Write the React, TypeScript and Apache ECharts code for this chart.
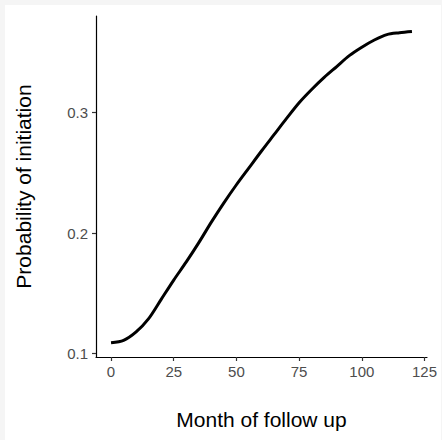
import React, { useEffect, useRef } from "react";
import * as echarts from "echarts";

const months = [0, 5, 10, 15, 20, 25, 30, 35, 40, 45, 50, 55, 60, 65, 70, 75, 80, 85, 90, 95, 100, 105, 110, 115, 120];
const probability = [0.109, 0.111, 0.118, 0.129, 0.145, 0.161, 0.176, 0.192, 0.209, 0.225, 0.24, 0.254, 0.268, 0.2815, 0.295, 0.308, 0.319, 0.329, 0.338, 0.347, 0.354, 0.36, 0.3645, 0.366, 0.367];
const xTicks = [0, 25, 50, 75, 100, 125];
const yTicks = [0.1, 0.2, 0.3];

export default function App() {
  const ref = useRef<HTMLDivElement>(null);
  useEffect(() => {
    if (!ref.current) return;
    const chart = echarts.init(ref.current, null, { renderer: "svg" });
    const font = "Liberation Sans, Arial, Helvetica, sans-serif";
    chart.setOption({
      animation: false,
      backgroundColor: "#ffffff",
      grid: { left: 91, right: 14, top: 11, bottom: 83, containLabel: false, outerBoundsMode: "none" },
      xAxis: {
        type: "value",
        min: -6,
        max: 126,
        name: "Month of follow up",
        nameLocation: "middle",
        nameGap: 52,
        nameTextStyle: { color: "#000", fontSize: 21, fontFamily: font },
        axisLine: { show: true, onZero: false, lineStyle: { color: "#000", width: 1.2 } },
        axisTick: { show: true, length: 4, lineStyle: { color: "#333", width: 1.2 }, customValues: xTicks },
        axisLabel: { color: "#4d4d4d", fontSize: 15, fontFamily: font, margin: 7, customValues: xTicks },
        splitLine: { show: false },
      },
      yAxis: {
        type: "value",
        min: 0.0972,
        max: 0.3799,
        name: "Probability of initiation",
        nameLocation: "middle",
        nameGap: 62,
        nameTextStyle: { color: "#000", fontSize: 21, fontFamily: font },
        axisLine: { show: true, onZero: false, lineStyle: { color: "#000", width: 1.2 } },
        axisTick: { show: true, length: 4, lineStyle: { color: "#333", width: 1.2 }, customValues: yTicks },
        axisLabel: {
          color: "#4d4d4d",
          fontSize: 15,
          fontFamily: font,
          margin: 8,
          customValues: yTicks,
          formatter: (v: number) => v.toFixed(1),
        },
        splitLine: { show: false },
      },
      series: [
        {
          type: "line",
          data: months.map((m, i) => [m, probability[i]]),
          showSymbol: false,
          smooth: 0.3,
          lineStyle: { color: "#000", width: 3 },
        },
      ],
    });
    return () => chart.dispose();
  }, []);
  return (
    <div style={{ position: "fixed", left: 0, top: 0, width: 442, height: 440, background: "#f5f5f5" }}>
      <div ref={ref} style={{ position: "absolute", left: 5, top: 5, width: 436, height: 435 }} />
    </div>
  );
}
